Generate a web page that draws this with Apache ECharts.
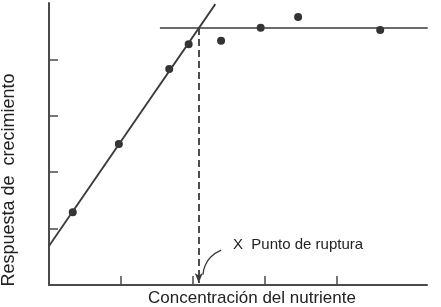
<!DOCTYPE html>
<html>
<head>
<meta charset="utf-8">
<script src="https://cdn.jsdelivr.net/npm/echarts@6/dist/echarts.min.js"></script>
<style>
html,body{margin:0;padding:0;background:#fff;}
#c{width:441px;height:307px;}
</style>
</head>
<body>
<div id="c"></div>
<script>
// Data (in chart units)
var pointsX = [0.33, 0.97, 1.67, 1.94, 2.39, 2.94, 3.46, 4.60];
var pointsY = [1.29, 2.50, 3.83, 4.27, 4.33, 4.56, 4.75, 4.52];
var riseLineX = [0, 2.31];
var riseLineY = [0.69, 4.98];
var plateauX = [1.54, 5.26];
var plateauY = [4.557, 4.557];
var breakX = 2.08;
var breakTopY = 4.557;
var breakBottomY = 0.035;
var leaderX = [2.39, 2.25, 2.167, 2.139];
var leaderY = [0.62, 0.50, 0.34, 0.18];
var xTicks = [1, 2, 3, 4];
var yTicks = [1, 2, 3, 4];
var xTitle = 'Concentración del nutriente';
var yTitle = 'Respuesta de  crecimiento';
var annotation = 'X  Punto de ruptura';

function zip(a, b) { return a.map(function (v, i) { return [v, b[i]]; }); }

var ink = '#3a3a3a';
var chart = echarts.init(document.getElementById('c'));
chart.setOption({
  animation: false,
  backgroundColor: '#fff',
  grid: { left: 49, top: 3, right: 14, bottom: 22 },
  xAxis: {
    type: 'value', min: 0, max: 5.25, interval: 1,
    axisLine: { show: true, onZero: false, lineStyle: { color: '#4a4a4a', width: 2 } },
    axisTick: { show: true, inside: true, length: 9, customValues: xTicks, lineStyle: { color: '#4a4a4a', width: 1.5 } },
    axisLabel: { show: false },
    splitLine: { show: false }
  },
  yAxis: {
    type: 'value', min: 0, max: 5, interval: 1,
    axisLine: { show: true, onZero: false, lineStyle: { color: '#4a4a4a', width: 2 } },
    axisTick: { show: true, inside: true, length: 9, customValues: yTicks, lineStyle: { color: '#4a4a4a', width: 1.5 } },
    axisLabel: { show: false },
    splitLine: { show: false }
  },
  series: [
    {
      type: 'line', data: zip(riseLineX, riseLineY), showSymbol: false, silent: true,
      lineStyle: { color: ink, width: 1.8 }
    },
    {
      type: 'line', data: zip(plateauX, plateauY), showSymbol: false, silent: true,
      lineStyle: { color: ink, width: 1.6 },
      markLine: {
        silent: true, symbol: ['none', 'arrow'], symbolSize: [6, 10],
        label: { show: false },
        lineStyle: { color: ink, width: 1.8, type: [7, 4] },
        data: [[{ coord: [breakX, breakTopY] }, { coord: [breakX, breakBottomY] }]]
      }
    },
    {
      type: 'line', data: zip(leaderX, leaderY), smooth: true, showSymbol: false, silent: true,
      lineStyle: { color: ink, width: 1.3 }
    },
    {
      type: 'scatter', data: zip(pointsX, pointsY), symbolSize: 11,
      itemStyle: { color: '#333', borderColor: '#fff', borderWidth: 3, opacity: 1 }
    }
  ],
  graphic: [
    { type: 'text', left: 233, top: 237, style: { text: annotation, font: '15px "Liberation Sans", Arial, sans-serif', fill: '#222' } },
    { type: 'text', x: 252, y: 298, style: { text: xTitle, font: '17px "Liberation Sans", Arial, sans-serif', fill: '#222', align: 'center', verticalAlign: 'middle' } },
    { type: 'text', x: 9, y: 180, rotation: Math.PI / 2, style: { text: yTitle, font: '18px "Liberation Sans", Arial, sans-serif', fill: '#222', align: 'center', verticalAlign: 'middle' } }
  ]
});
</script>
</body>
</html>
